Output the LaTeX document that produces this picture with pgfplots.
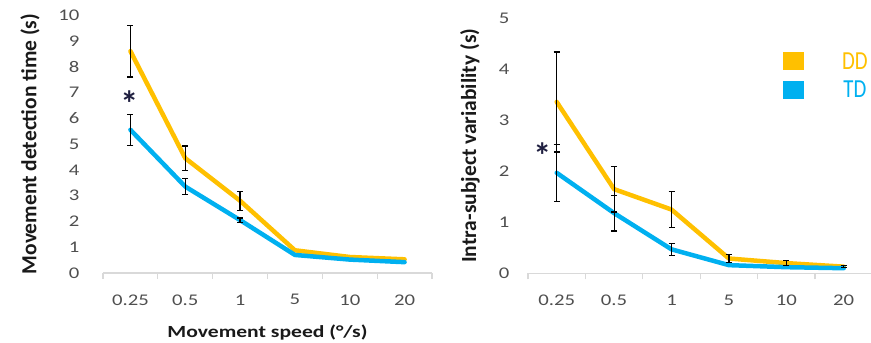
\documentclass[border=0pt]{standalone}
\usepackage{fontspec}
\setmainfont{Carlito}
\newfontfamily\wide{Carlito}[FakeStretch=1.27]
\newfontfamily\narrow{Carlito}[FakeStretch=0.8]
\usepackage{pgfplots}
\pgfplotsset{compat=1.18}
\definecolor{dd}{HTML}{FFC000}
\definecolor{td}{HTML}{00B0F0}
\definecolor{tickgray}{HTML}{4F4F4F}
\definecolor{axgray}{HTML}{D9D9D9}
\definecolor{star}{HTML}{1F1F40}
\pgfplotsset{
  common/.style={
    scale only axis,
    anchor=south west,
    clip=false,
    xmin=-0.5, xmax=5.5, ymin=0,
    xtick={0,...,5},
    xticklabels={0.25,0.5,1,5,10,20},
    minor xtick={-0.5,0.5,...,5.5},
    axis x line*=bottom, axis y line*=left,
    y axis line style={draw=none},
    x axis line style={draw=axgray, line width=1.3pt, -},
    major tick length=0pt,
    minor tick length=6pt,
    tick align=outside,
    major tick style={draw=none},
    minor x tick style={draw=axgray, line width=1.3pt},
    /pgf/number format/assume math mode=true,
    ticklabel style={font=\wide\fontsize{16.3}{18}\selectfont, text=tickgray},
    xticklabel style={yshift=-18pt},
    ylabel style={font=\bfseries\fontsize{21.5}{24}\selectfont, text=black!90, anchor=center},
  },
  mainline/.style={line width=4.5pt, line join=round, line cap=round},
  errs/.style={draw=none, forget plot,
    error bars/.cd, y dir=both, y explicit,
    error bar style={draw=black, line width=1.2pt},
    error mark options={rotate=90, mark size=3pt, draw=black, line width=1.2pt}},
}
\begin{document}
\begin{tikzpicture}
\useasboundingbox (0,0) rectangle (871pt,343pt);
% Left panel
\begin{axis}[common,
  at={(103pt,70pt)}, width=329pt, height=258pt,
  ymax=10, ytick={0,...,10},
  yticklabel style={xshift=-20pt},
  ylabel={Movement detection time (s)},
  ylabel style={at={([xshift=-73pt]axis description cs:0,0.5)}},
  xlabel={Movement speed (°/s)},
  xlabel style={font=\wide\bfseries\fontsize{17}{20}\selectfont, text=black!90, at={([yshift=-60pt]axis description cs:0.5,0)}, anchor=center},
]
\addplot[mainline, color=dd] coordinates {(0,8.6) (1,4.45) (2,2.8) (3,0.88) (4,0.62) (5,0.53)};
\addplot[mainline, color=td] coordinates {(0,5.55) (1,3.35) (2,2.05) (3,0.7) (4,0.52) (5,0.42)};
\addplot[errs] coordinates {(0,8.6) +- (0,1.0) (1,4.45) +- (0,0.47) (2,2.8) +- (0,0.37)};
\addplot[errs] coordinates {(0,5.55) +- (0,0.6) (1,3.35) +- (0,0.3) (2,2.05) +- (0,0.08)};
\node[font=\bfseries\fontsize{36}{36}\selectfont, text=star] at (axis cs:-0.02,6.55) {*};
\end{axis}
% Right panel
\begin{axis}[common,
  at={(528pt,69.7pt)}, width=344.4pt, height=255pt,
  ymax=5, ytick={0,...,5},
  yticklabel style={xshift=-15pt},
  ylabel={Intra-subject variability (s)},
  ylabel style={at={([xshift=-58pt]axis description cs:0,0.5)}},
  legend style={at={(rel axis cs:0.74,0.875)}, anchor=north west, draw=none, fill=none,
    font=\narrow\fontsize{26}{30}\selectfont, row sep=6pt, inner sep=0pt,
    /tikz/every odd column/.append style={column sep=36pt}},
  legend image code/.code={\fill[#1, draw=none] (0pt,-9pt) rectangle (21pt,9pt);},
  legend entries={\textcolor{dd}{DD},\textcolor{td}{TD}},
]
\addplot[mainline, color=dd] coordinates {(0,3.36) (1,1.65) (2,1.25) (3,0.29) (4,0.2) (5,0.13)};
\addplot[mainline, color=td] coordinates {(0,1.97) (1,1.18) (2,0.47) (3,0.16) (4,0.12) (5,0.1)};
\addplot[errs] coordinates {(0,3.36) +- (0,0.98) (1,1.65) +- (0,0.45) (2,1.25) +- (0,0.35) (3,0.29) +- (0,0.08) (4,0.2) +- (0,0.05) (5,0.13) +- (0,0.02)};
\addplot[errs] coordinates {(0,1.97) +- (0,0.56) (1,1.18) +- (0,0.35) (2,0.47) +- (0,0.12)};
\node[font=\bfseries\fontsize{36}{36}\selectfont, text=star] at (axis cs:-0.25,2.3) {*};
\end{axis}
\end{tikzpicture}
\end{document}
